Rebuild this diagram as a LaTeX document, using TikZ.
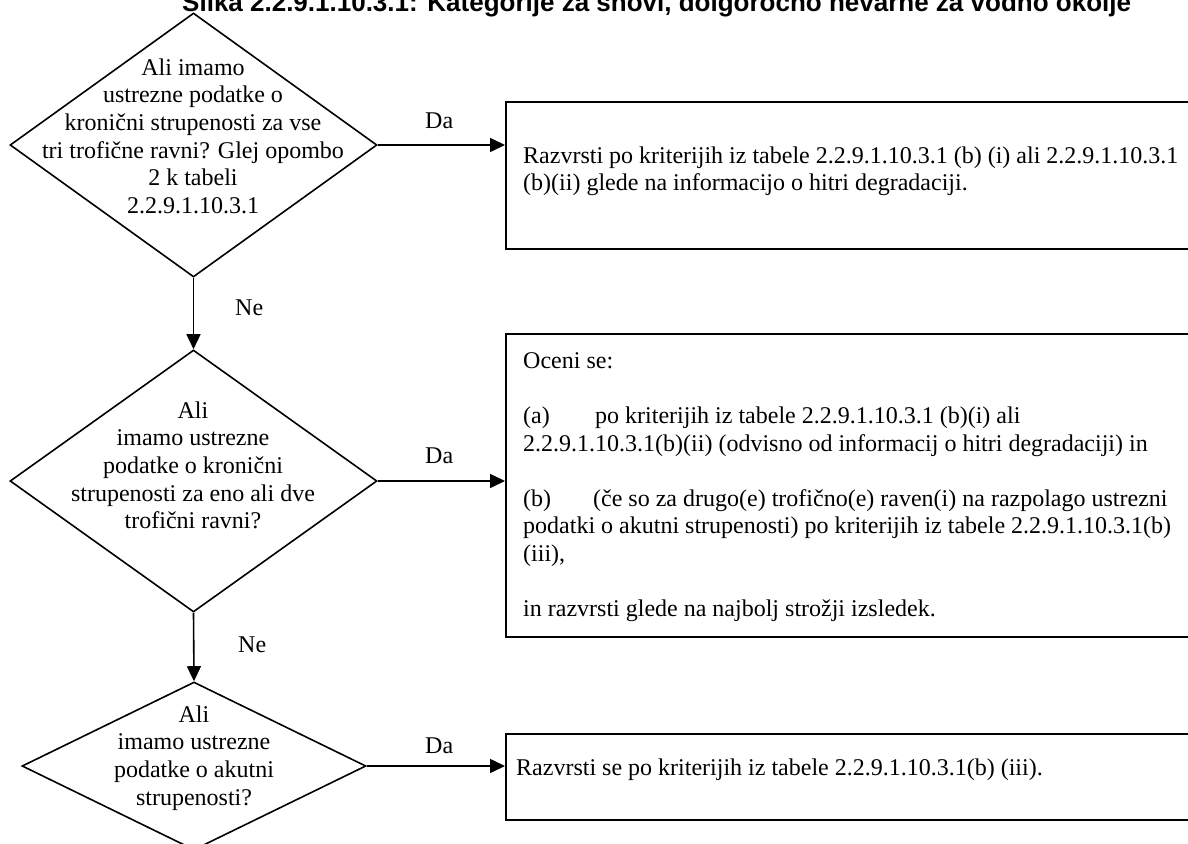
\documentclass[tikz,border=0pt]{standalone}
\usepackage{fontspec}
\setmainfont{Liberation Serif}
\newfontfamily\titlefont{Liberation Sans}
\usetikzlibrary{shapes.geometric,arrows.meta}
\begin{document}
\begin{tikzpicture}[x=1pt,y=-1pt,
  txt/.style={font=\fontsize{24pt}{27.6pt}\selectfont, inner sep=0pt},
  dia/.style={draw, shape=diamond, line width=1.6pt, inner sep=0pt},
  box/.style={draw, rectangle, line width=1.6pt, anchor=north west, inner sep=0pt},
  arr/.style={line width=1.6pt, -{Triangle[length=15pt,width=14pt]}},
  lbl/.style={txt, anchor=base west}]
\useasboundingbox (0,0) rectangle (1188,843);
\clip (0,0) rectangle (1188,843);

\node[anchor=base west, inner sep=0pt, font=\titlefont\fontsize{26pt}{30pt}\selectfont\bfseries] (title) at (182,12)
  {Slika 2.2.9.1.10.3.1: Kategorije za snovi, dolgoročno nevarne za vodno okolje};

% decisions
\node[dia, minimum width=367pt, minimum height=264pt] (d1) at (193.5,145) {};
\node[dia, minimum width=367pt, minimum height=262pt] (d2) at (193.5,481) {};
\node[dia, minimum width=344pt, minimum height=168pt] (d3) at (194,766) {};

\node[txt, anchor=north, align=center] (t1) at (193,55.7)
  {\strut Ali imamo\\ustrezne podatke o\\kronični strupenosti za vse\\tri trofične ravni? Glej opombo\\2 k tabeli\\2.2.9.1.10.3.1};
\node[txt, anchor=north, align=center] (t2) at (193,398.7)
  {\strut Ali\\imamo ustrezne\\podatke o kronični\\strupenosti za eno ali dve\\trofični ravni?};
\node[txt, anchor=north, align=center] (t3) at (194,702.7)
  {\strut Ali\\imamo ustrezne\\podatke o akutni\\strupenosti?};

% result boxes
\node[box, minimum width=720pt, minimum height=147pt] (b1) at (505,101) {};
\node[box, minimum width=720pt, minimum height=303pt] (b2) at (505,333) {};
\node[box, minimum width=720pt, minimum height=86pt] (b3) at (505,733) {};

\node[txt, anchor=north west, align=left] (r1) at (523,143.7)
  {\strut Razvrsti po kriterijih iz tabele 2.2.9.1.10.3.1 (b) (i) ali 2.2.9.1.10.3.1\\(b)(ii) glede na informacijo o hitri degradaciji.};
\node[txt, anchor=north west, align=left] (r2) at (523,348.7)
  {\strut Oceni se:\\[27.6pt]
   \makebox[72pt][l]{(a)}po kriterijih iz tabele 2.2.9.1.10.3.1 (b)(i) ali\\
   2.2.9.1.10.3.1(b)(ii) (odvisno od informacij o hitri degradaciji) in\\[27.6pt]
   \makebox[70pt][l]{(b)}(če so za drugo(e) trofično(e) raven(i) na razpolago ustrezni\\
   podatki o akutni strupenosti) po kriterijih iz tabele 2.2.9.1.10.3.1(b)\\
   (iii),\\[27.6pt]
   in razvrsti glede na najbolj strožji izsledek.};
\node[txt, anchor=north west, align=left] (r3) at (516,755.7)
  {\strut Razvrsti se po kriterijih iz tabele 2.2.9.1.10.3.1(b) (iii).};

% connectors
\draw[arr] (d1.east) -- (d1.east -| b1.west);
\draw[arr] (d2.east) -- (d2.east -| b2.west);
\draw[arr] (d3.east) -- (d3.east -| b3.west);
\draw[arr] (d1.south) -- (d2.north);
\draw[arr] (d2.south) -- (d3.north);

% labels
\node[lbl] (da1) at (425,128) {Da};
\node[lbl] (da2) at (425,463) {Da};
\node[lbl] (da3) at (425,753) {Da};
\node[lbl] (ne1) at (235,315) {Ne};
\node[lbl] (ne2) at (238,652) {Ne};
\end{tikzpicture}
\end{document}
